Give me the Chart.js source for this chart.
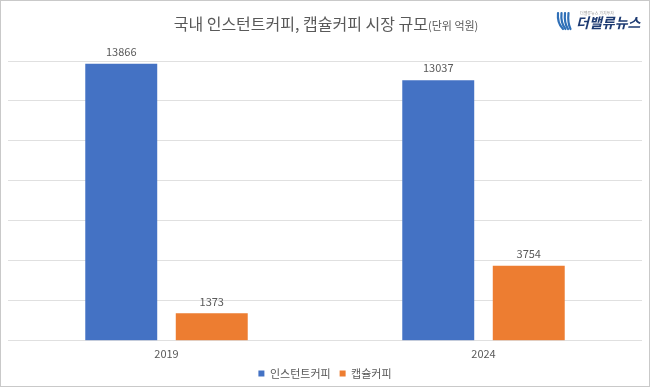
<!DOCTYPE html>
<html>
<head>
<meta charset="utf-8">
<script src="https://cdn.jsdelivr.net/npm/chart.js@4"></script>
<style>
  html, body { margin: 0; padding: 0; background: #fff; }
  canvas { display: block; }
</style>
</head>
<body>
<canvas id="c" width="650" height="387"></canvas>
<script>
const categories = ['2019', '2024'];
const instantCoffee = [13866, 13037];
const capsuleCoffee = [1373, 3754];
const seriesNames = ['인스턴트커피', '캡슐커피'];
const titleMain = '국내 인스턴트커피, 캡슐커피 시장 규모';
const titleUnit = '(단위 억원)';
const logoText = '더밸류뉴스';

const FONT = "'Noto Sans CJK KR', 'Noto Sans', sans-serif";
const GRAY = '#595959';

const decorPlugin = {
  id: 'decor',
  afterDraw(chart) {
    const ctx = chart.ctx;
    ctx.save();
    // frame
    ctx.strokeStyle = '#c9c9c9';
    ctx.lineWidth = 1;
    ctx.strokeRect(0.5, 0.5, chart.width - 1, chart.height - 1);
    // title
    ctx.textBaseline = 'alphabetic';
    ctx.font = '16px ' + FONT;
    const w1 = ctx.measureText(titleMain).width;
    ctx.font = '11px ' + FONT;
    const w2 = ctx.measureText(titleUnit).width;
    const x0 = 326 - (w1 + w2) / 2;
    ctx.fillStyle = GRAY;
    ctx.font = '16px ' + FONT;
    ctx.fillText(titleMain, x0, 30);
    ctx.font = '11px ' + FONT;
    ctx.fillText(titleUnit, x0 + w1, 30);
    // logo icon
    ctx.strokeStyle = '#2f6fb7';
    ctx.lineCap = 'round';
    const ix = 565, iy = 21;
    for (let i = 0; i < 4; i++) {
      ctx.lineWidth = 2.2;
      ctx.beginPath();
      ctx.moveTo(ix - 7 + i * 3.5, iy - 8);
      ctx.quadraticCurveTo(ix - 8 + i * 3.5, iy + 2, ix - 2 + i * 2.5, iy + 8);
      ctx.stroke();
    }
    // logo text
    ctx.fillStyle = '#1e3b72';
    ctx.font = 'italic bold 14px ' + FONT;
    ctx.textBaseline = 'middle';
    ctx.fillText(logoText, 576, 23);
    ctx.fillStyle = '#9a9a9a';
    ctx.font = '4px ' + FONT;
    ctx.fillText('더밸류뉴스 가치투자', 580, 13);
    // data labels
    ctx.fillStyle = GRAY;
    ctx.font = '11px ' + FONT;
    ctx.textAlign = 'center';
    ctx.textBaseline = 'middle';
    chart.data.datasets.forEach((ds, di) => {
      const meta = chart.getDatasetMeta(di);
      meta.data.forEach((bar, i) => {
        ctx.fillText(String(ds.data[i]), bar.x, bar.y - 12);
      });
    });
    ctx.restore();
  }
};

new Chart(document.getElementById('c'), {
  type: 'bar',
  data: {
    labels: categories,
    datasets: [
      { label: seriesNames[0], data: instantCoffee, backgroundColor: '#4472C4' },
      { label: seriesNames[1], data: capsuleCoffee, backgroundColor: '#ED7D31' }
    ]
  },
  options: {
    responsive: false,
    animation: false,
    devicePixelRatio: 1,
    layout: { padding: { left: 8, right: 8, top: 61, bottom: -2 } },
    datasets: { bar: { categoryPercentage: 0.571, barPercentage: 0.795 } },
    plugins: {
      title: { display: false },
      tooltip: { enabled: false },
      legend: {
        position: 'bottom',
        labels: {
          boxWidth: 6, boxHeight: 6, padding: 9,
          color: GRAY,
          font: { family: FONT, size: 11 }
        }
      }
    },
    scales: {
      x: {
        grid: { display: false, drawTicks: false },
        border: { display: false },
        ticks: { color: GRAY, font: { family: FONT, size: 11 }, padding: 6 },
        afterFit(scale) { scale.height -= 7; }
      },
      y: {
        min: 0, max: 14000,
        ticks: { display: false, stepSize: 2000 },
        grid: { color: '#e0e0e0', drawTicks: false },
        border: { display: false },
        afterFit(scale) { scale.width = 0; }
      }
    }
  },
  plugins: [decorPlugin]
});
</script>
</body>
</html>
